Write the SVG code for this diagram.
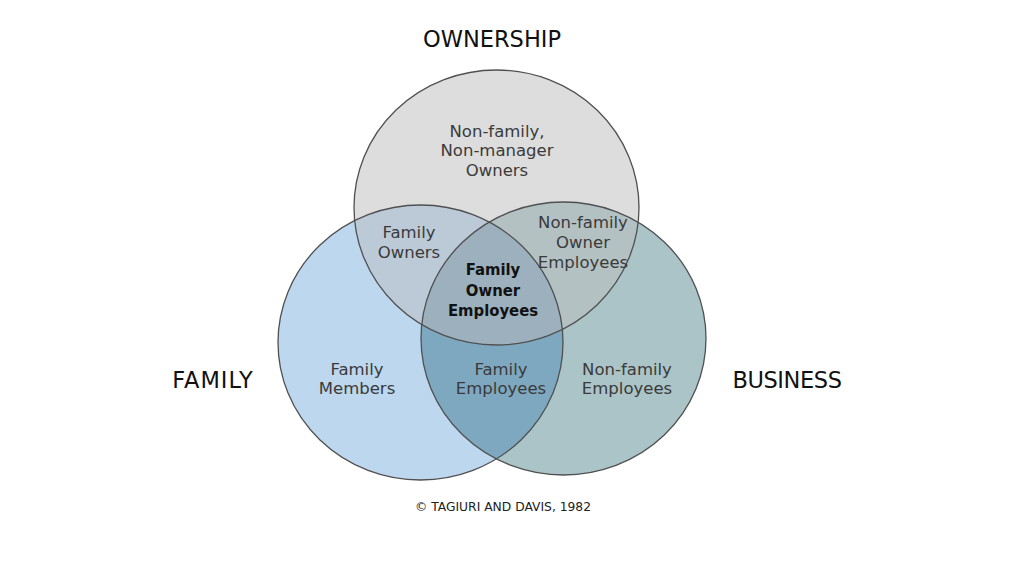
<svg xmlns="http://www.w3.org/2000/svg" width="1024" height="576" viewBox="0 0 1024 576">
  <style>
    .lbl { font-family: "DejaVu Sans", "Liberation Sans", sans-serif; font-size: 16.5px; fill: #3a3a3a; text-anchor: middle; }
    .bold { font-family: "DejaVu Sans Condensed", "DejaVu Sans", sans-serif; font-stretch: condensed; font-weight: bold; font-size: 16.5px; fill: #111; text-anchor: middle; }
    .title { font-family: "DejaVu Sans", "Liberation Sans", sans-serif; font-size: 22.5px; fill: #111; text-anchor: middle; }
    .copy { font-family: "DejaVu Sans", "Liberation Sans", sans-serif; font-size: 12.3px; fill: #222; text-anchor: middle; }
    .edge { fill: none; stroke: #505050; stroke-width: 1.3; }
  </style>
  <defs>
    <ellipse id="eOwn" cx="496.5" cy="207.5" rx="142.5" ry="137.5"/>
    <ellipse id="eFam" cx="420.5" cy="342.5" rx="142.5" ry="137.5"/>
    <ellipse id="eBus" cx="563.5" cy="338.5" rx="142.5" ry="136.5"/>
    <clipPath id="cOwn"><use href="#eOwn"/></clipPath>
    <clipPath id="cFam"><use href="#eFam"/></clipPath>
    <clipPath id="cFamOwn" clip-path="url(#cOwn)"><use href="#eFam"/></clipPath>
  </defs>
  <rect width="1024" height="576" fill="#ffffff"/>

  <g id="ownership">
    <use href="#eOwn" fill="#dddddd"/>
  </g>
  <g id="family">
    <use href="#eFam" fill="#bdd7ee"/>
  </g>
  <g id="business">
    <use href="#eBus" fill="#abc4c7"/>
  </g>
  <g id="overlaps">
    <use href="#eFam" fill="#bccad8" clip-path="url(#cOwn)"/>
    <use href="#eBus" fill="#b4c1c3" clip-path="url(#cOwn)"/>
    <use href="#eBus" fill="#7ea8bf" clip-path="url(#cFam)"/>
    <use href="#eBus" fill="#9cb0bd" clip-path="url(#cFamOwn)"/>
  </g>
  <g id="outlines">
    <use href="#eOwn" class="edge"/>
    <use href="#eFam" class="edge"/>
    <use href="#eBus" class="edge"/>
  </g>
  <g id="connectors"></g>

  <g id="title-ownership"><text class="title" x="492" y="47">OWNERSHIP</text></g>
  <g id="title-family"><text class="title" x="213" y="388" letter-spacing="1">FAMILY</text></g>
  <g id="title-business"><text class="title" x="787" y="388" letter-spacing="-0.4">BUSINESS</text></g>

  <g id="region-nonfamily-owners">
    <text class="lbl" x="497" y="137">Non-family,</text>
    <text class="lbl" x="497" y="156">Non-manager</text>
    <text class="lbl" x="497" y="176">Owners</text>
  </g>
  <g id="region-family-owners">
    <text class="lbl" x="409" y="238">Family</text>
    <text class="lbl" x="409" y="258">Owners</text>
  </g>
  <g id="region-nonfamily-owner-employees">
    <text class="lbl" x="583" y="228">Non-family</text>
    <text class="lbl" x="583" y="248">Owner</text>
    <text class="lbl" x="583" y="268">Employees</text>
  </g>
  <g id="region-family-owner-employees">
    <text class="bold" x="493" y="275">Family</text>
    <text class="bold" x="493" y="296">Owner</text>
    <text class="bold" x="493" y="316">Employees</text>
  </g>
  <g id="region-family-members">
    <text class="lbl" x="357" y="375">Family</text>
    <text class="lbl" x="357" y="394">Members</text>
  </g>
  <g id="region-family-employees">
    <text class="lbl" x="501" y="375">Family</text>
    <text class="lbl" x="501" y="394">Employees</text>
  </g>
  <g id="region-nonfamily-employees">
    <text class="lbl" x="627" y="375">Non-family</text>
    <text class="lbl" x="627" y="394">Employees</text>
  </g>
  <g id="credit"><text class="copy" x="503" y="511">© TAGIURI AND DAVIS, 1982</text></g>
</svg>
